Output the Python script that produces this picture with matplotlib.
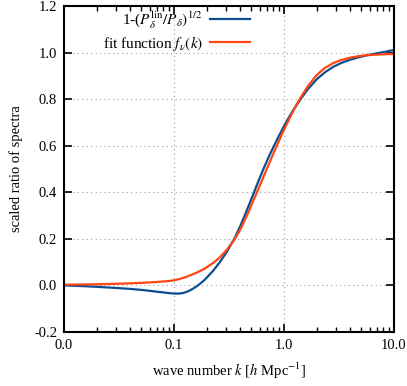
import matplotlib
matplotlib.use("Agg")
import matplotlib.pyplot as plt
from matplotlib.ticker import FixedLocator, FormatStrFormatter, LogLocator, NullFormatter

plt.rcParams['font.family'] = ['Liberation Serif', 'DejaVu Serif']
plt.rcParams['mathtext.fontset'] = 'stix'
plt.rcParams['axes.unicode_minus'] = False

# data
k_blue = [0.01, 0.015, 0.02, 0.03, 0.04, 0.05, 0.06, 0.07, 0.08, 0.09, 0.1, 0.11, 0.12,
          0.13, 0.14, 0.15, 0.165, 0.19, 0.228, 0.26, 0.301, 0.358, 0.4, 0.455, 0.52,
          0.58, 0.65, 0.72, 0.8, 0.89, 1.0, 1.09, 1.2, 1.4, 1.65, 1.98, 2.35, 2.81, 3.3,
          3.98, 4.7, 5.65, 7.0, 8.4, 10.0]
ratio_blue = [0.0, -0.003, -0.006, -0.011, -0.015, -0.019, -0.023, -0.027, -0.030, -0.033,
              -0.035, -0.035, -0.033, -0.028, -0.021, -0.013, 0.0, 0.024, 0.064, 0.099,
              0.143, 0.205, 0.254, 0.318, 0.386, 0.443, 0.5, 0.548, 0.594, 0.638, 0.684,
              0.716, 0.749, 0.797, 0.843, 0.885, 0.915, 0.939, 0.955, 0.969, 0.979, 0.988,
              0.997, 1.004, 1.011]

k_fit = [0.01, 0.02, 0.03, 0.04, 0.05, 0.06, 0.07, 0.08, 0.09, 0.1, 0.113, 0.13, 0.161,
         0.19, 0.228, 0.26, 0.301, 0.358, 0.4, 0.455, 0.5, 0.56, 0.62, 0.69, 0.8, 0.9,
         0.985, 1.13, 1.25, 1.4, 1.65, 1.98, 2.35, 2.81, 3.3, 3.98, 4.7, 5.65, 7.0, 8.4,
         10.0]
ratio_fit = [0.003, 0.005, 0.007, 0.009, 0.011, 0.013, 0.015, 0.017, 0.019, 0.022, 0.028,
             0.037, 0.055, 0.072, 0.097, 0.12, 0.152, 0.2, 0.24, 0.295, 0.34, 0.393, 0.443,
             0.495, 0.566, 0.621, 0.662, 0.72, 0.762, 0.803, 0.856, 0.903, 0.934, 0.955,
             0.968, 0.978, 0.984, 0.989, 0.991, 0.993, 0.994]

x_ticks = [0.01, 0.1, 1.0, 10.0]
y_ticks = [-0.2, 0.0, 0.2, 0.4, 0.6, 0.8, 1.0, 1.2]

label_blue = r'1-($P_\delta^{\rm lin}/P_\delta)^{1/2}$'
label_fit = r'fit function $f_\nu(k)$'

fig = plt.figure(figsize=(4.07, 3.86), dpi=100)
ax = fig.add_axes([64/407, 1-332/386, 330/407, 326/386])

ax.plot(k_blue, ratio_blue, color='#0b4d8f', lw=1.6, label=label_blue)
ax.plot(k_fit, ratio_fit, color='#ff4514', lw=1.6, label=label_fit)

ax.set_xscale('log')
ax.set_xlim(0.01, 10)
ax.set_ylim(-0.2, 1.2)
ax.xaxis.set_major_locator(FixedLocator(x_ticks))
ax.xaxis.set_major_formatter(FormatStrFormatter('%.1f'))
ax.xaxis.set_minor_locator(LogLocator(base=10, subs=range(2, 10)))
ax.xaxis.set_minor_formatter(NullFormatter())
ax.yaxis.set_major_locator(FixedLocator(y_ticks))
ax.yaxis.set_major_formatter(FormatStrFormatter('%.1f'))

ax.tick_params(which='both', direction='in', top=True, right=True, labelsize=10.5, color='black')
ax.tick_params(which='major', length=6, width=1.2, pad=5)
ax.tick_params(which='minor', length=3.5, width=1.0)
for s in ax.spines.values():
    s.set_linewidth(1.5)

ax.grid(True, which='major', linestyle=(0, (1, 3)), color='#a0a0a0', lw=0.8)

ax.set_xlabel(r'wave number $k$ [$h$ Mpc$^{-1}$]', fontsize=10.5, labelpad=6)
ax.set_ylabel('scaled ratio of spectra', fontsize=10.5, labelpad=8)

leg = ax.legend(loc='upper right', bbox_to_anchor=(0.564, 0.99), frameon=False,
                markerfirst=False, fontsize=11, handlelength=2.6, handletextpad=0.5,
                borderpad=0, borderaxespad=0, labelspacing=0.2)

fig.savefig('out.png', dpi=100)
